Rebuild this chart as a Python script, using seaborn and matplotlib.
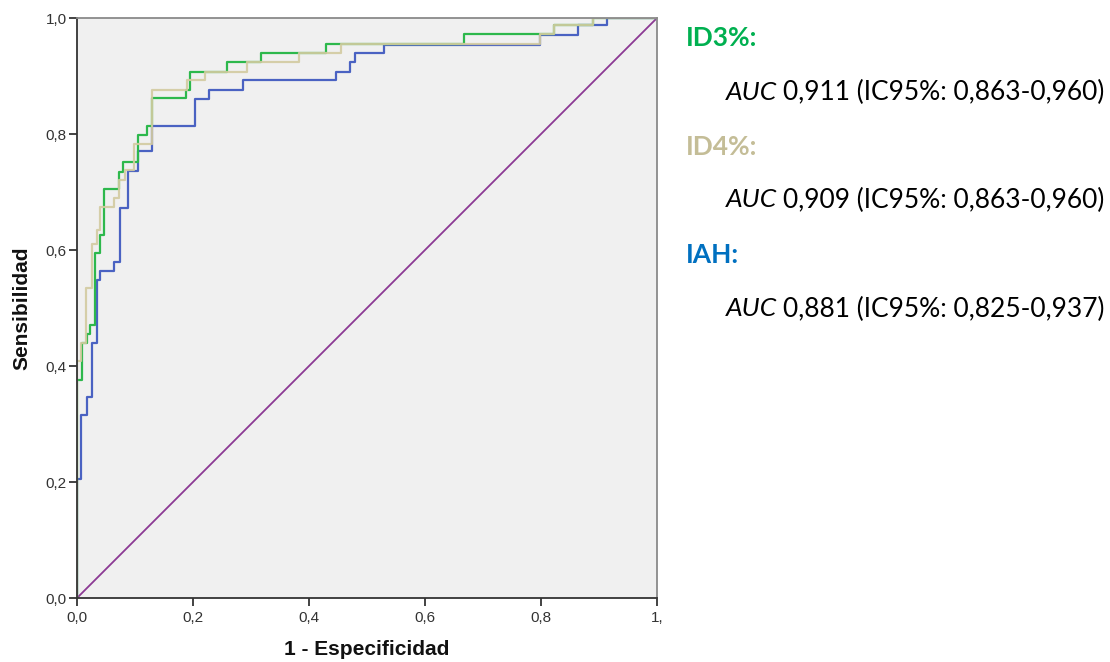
import numpy as np
import pandas as pd
import matplotlib
matplotlib.use("Agg")
import matplotlib.pyplot as plt
import seaborn as sns

# ---- data ----
iah_fpr = [0.0, 0.0, 0.007, 0.017, 0.025, 0.034, 0.039, 0.064, 0.074, 0.088, 0.106, 0.130,
           0.203, 0.228, 0.286, 0.447, 0.471, 0.480, 0.529, 0.798, 0.864, 0.913, 1.0]
iah_tpr = [0.0, 0.205, 0.315, 0.347, 0.440, 0.548, 0.564, 0.580, 0.673, 0.737, 0.770, 0.814,
           0.860, 0.876, 0.893, 0.907, 0.924, 0.939, 0.953, 0.971, 0.988, 1.0, 1.0]

id3_fpr = [0.0, 0.0, 0.009, 0.009, 0.017, 0.023, 0.031, 0.040, 0.047, 0.073, 0.080, 0.105,
           0.121, 0.130, 0.188, 0.195, 0.258, 0.317, 0.430, 0.667, 0.823, 0.889, 1.0]
id3_tpr = [0.0, 0.376, 0.405, 0.440, 0.456, 0.471, 0.595, 0.626, 0.705, 0.735, 0.752, 0.798,
           0.814, 0.862, 0.876, 0.907, 0.924, 0.939, 0.956, 0.972, 0.988, 1.0, 1.0]

id4_fpr = [0.0, 0.0, 0.007, 0.016, 0.025, 0.034, 0.040, 0.063, 0.073, 0.083, 0.098, 0.130,
           0.190, 0.220, 0.293, 0.383, 0.456, 0.798, 0.823, 0.889, 1.0]
id4_tpr = [0.0, 0.408, 0.440, 0.534, 0.611, 0.634, 0.675, 0.690, 0.720, 0.738, 0.783, 0.876,
           0.893, 0.907, 0.924, 0.939, 0.956, 0.972, 0.988, 1.0, 1.0]

ref_line = [0.0, 1.0]

tick_vals = [0.0, 0.2, 0.4, 0.6, 0.8, 1.0]
x_tick_labels = ["0,0", "0,2", "0,4", "0,6", "0,8", "1,"]
y_tick_labels = ["0,0", "0,2", "0,4", "0,6", "0,8", "1,0"]

labels = ["ID3%:", "ID4%:", "IAH:"]
auc_texts = ["0,911 (IC95%: 0,863-0,960)",
             "0,909 (IC95%: 0,863-0,960)",
             "0,881 (IC95%: 0,825-0,937)"]

# ---- style ----
sns.set_theme(style="white")
plt.rcParams["font.family"] = ["Liberation Sans", "DejaVu Sans"]

c_id3 = "#2DB84C"
c_id4 = "#D3CBA0"
c_iah = "#4A62C2"
c_ref = "#8C3A94"

fig = plt.figure(figsize=(11.10, 6.62), dpi=100)
W, H = 1110, 662
ax = fig.add_axes([77 / W, 1 - 598 / H, 580 / W, 580 / H])
ax.set_facecolor("#F0F0F0")

df_ref = pd.DataFrame({"x": ref_line, "y": ref_line})
sns.lineplot(data=df_ref, x="x", y="y", ax=ax, color=c_ref, linewidth=1.3,
             sort=False, estimator=None)

df_iah = pd.DataFrame({"x": iah_fpr, "y": iah_tpr})
df_id3 = pd.DataFrame({"x": id3_fpr, "y": id3_tpr})
df_id4 = pd.DataFrame({"x": id4_fpr, "y": id4_tpr})
sns.lineplot(data=df_iah, x="x", y="y", ax=ax, color=c_iah, linewidth=1.6,
             sort=False, estimator=None, drawstyle="steps-post")
sns.lineplot(data=df_id3, x="x", y="y", ax=ax, color=c_id3, linewidth=1.6,
             sort=False, estimator=None, drawstyle="steps-post")
sns.lineplot(data=df_id4, x="x", y="y", ax=ax, color=c_id4, linewidth=1.6,
             sort=False, estimator=None, drawstyle="steps-post", alpha=0.9)

ax.set_xlim(0, 1)
ax.set_ylim(0, 1)
ax.set_xticks(tick_vals)
ax.set_xticklabels(x_tick_labels)
ax.set_yticks(tick_vals)
ax.set_yticklabels(y_tick_labels)
ax.tick_params(axis="both", which="both", direction="out", length=6, width=1.2,
               color="#222222", labelsize=11, labelcolor="#333333",
               bottom=True, left=True, top=False, right=False)
ax.tick_params(axis="x", pad=3.5)
ax.tick_params(axis="y", pad=1.5)
for side in ["left", "bottom"]:
    ax.spines[side].set_color("#333333")
    ax.spines[side].set_linewidth(1.3)
for side in ["top", "right"]:
    ax.spines[side].set_color("#8A8A8A")
    ax.spines[side].set_linewidth(1.3)

ax.set_xlabel("1 - Especificidad", fontsize=15, fontweight="bold", labelpad=11,
              color="#111111")
ax.set_ylabel("Sensibilidad", fontsize=15, fontweight="bold", labelpad=10,
              color="#111111")

# ---- right-hand annotation block ----
label_colors = ["#00B050", "#C4BD97", "#0070C0"]
label_y = [38, 147, 255]
auc_y = [92, 200, 309]
fam = ["Lato", "DejaVu Sans"]
fs = 19
renderer = fig.canvas.get_renderer()
for lab, col, ly, ay, txt in zip(labels, label_colors, label_y, auc_y, auc_texts):
    fig.text(686 / W, 1 - ly / H, lab, color=col, fontsize=fs, fontweight="bold",
             family=fam, va="center", ha="left")
    t = fig.text(726 / W, 1 - ay / H, "AUC", color="black", fontsize=fs,
                 style="italic", family=fam, va="center", ha="left")
    bb = t.get_window_extent(renderer=renderer)
    fig.text((bb.x1 + 6) / W, 1 - ay / H, txt, color="black", fontsize=fs,
             family=fam, va="center", ha="left")

fig.savefig("out.png", dpi=100)
